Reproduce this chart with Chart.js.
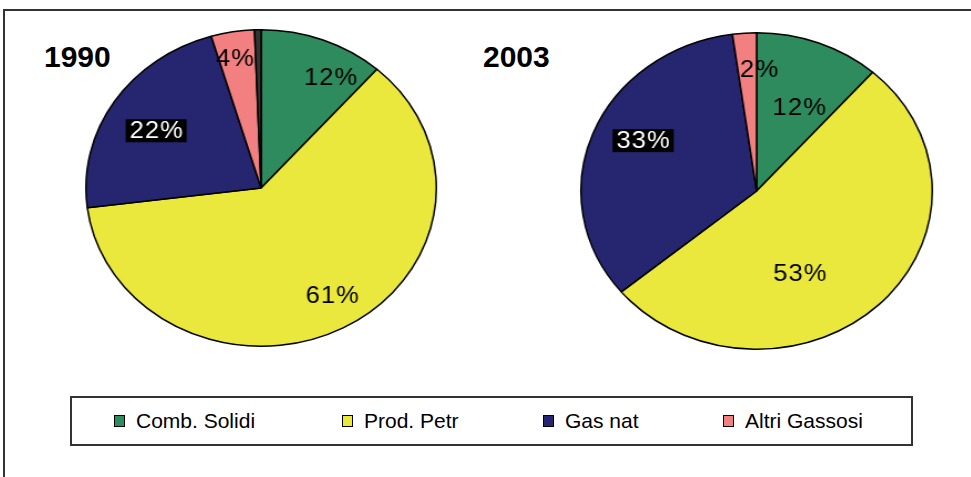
<!DOCTYPE html>
<html>
<head>
<meta charset="utf-8">
<script src="https://cdn.jsdelivr.net/npm/chart.js@4"></script>
<style>
  html, body { margin: 0; padding: 0; background: #fff; }
  body { width: 971px; height: 477px; position: relative; overflow: hidden; font-family: "Liberation Sans", Arial, sans-serif; }
  .frame { position: absolute; left: 3px; top: 9px; width: 1000px; height: 500px; border: 2px solid #333; box-sizing: border-box; }
  .title { position: absolute; font-weight: bold; font-size: 30px; line-height: 30px; color: #000; }
  .wrap { position: absolute; width: 320px; height: 320px; transform-origin: 0 0; }
  .legend { position: absolute; left: 70px; top: 396px; width: 843px; height: 50px; border: 2px solid #333; box-sizing: border-box; }
  .item { position: absolute; top: 0; height: 46px; display: flex; align-items: center; font-size: 21px; color: #000; white-space: nowrap; }
  .sw { width: 9px; height: 10px; border: 1px solid #000; margin-right: 11px; }
</style>
</head>
<body>
<div class="frame"></div>
<div class="title" style="left:44px; top:42px;">1990</div>
<div class="title" style="left:483px; top:42px;">2003</div>
<div class="wrap" id="w1" style="left:84px; top:28px; transform:scaleX(1.107);"><canvas id="c1" width="320" height="320"></canvas></div>
<div class="wrap" id="w2" style="left:579px; top:31px; transform:scaleX(1.11);"><canvas id="c2" width="320" height="320"></canvas></div>
<div class="legend" id="legend"></div>
<script>
// ---- data ----
const categories = ['Comb. Solidi', 'Prod. Petr', 'Gas nat', 'Altri Gassosi', 'Altro'];
const colors = ['#2E8B5E', '#EBE83D', '#262670', '#F28080', '#333333'];
const values1990 = [11.5, 61.5, 22.4, 4.0, 0.6];
const labels1990 = ['12%', '61%', '22%', '4%', ''];
const values2003 = [11.5, 52.5, 33.8, 2.2, 0];
const labels2003 = ['12%', '53%', '33%', '2%', ''];
const legendCount = 4;

// ---- label layout (placement only) ----
const labelLayout1990 = { frac: [0.80, 0.79, 0.70, 0.83, 0], nudge: [9, -3, -2, -1, 0] };
const labelLayout2003 = { frac: [0.58, 0.58, 0.72, 0.77, 0], nudge: [4, 19, 5, 5, 0] };
const boxedIndex = 2;
const legendX = [42, 270, 471, 651];

const sliceLabels = {
  id: 'sliceLabels',
  afterDatasetsDraw(chart, args, opts) {
    const ctx = chart.ctx;
    const meta = chart.getDatasetMeta(0);
    ctx.save();
    ctx.font = '23px "Liberation Sans", Arial, sans-serif';
    ctx.letterSpacing = '1px';
    ctx.textAlign = 'center';
    ctx.textBaseline = 'middle';
    meta.data.forEach((arc, i) => {
      const txt = opts.texts[i];
      if (!txt) return;
      const p = arc.getProps(['x', 'y', 'startAngle', 'endAngle', 'outerRadius'], true);
      const a = (p.startAngle + p.endAngle) / 2 + opts.layout.nudge[i] * Math.PI / 180;
      const r = p.outerRadius * opts.layout.frac[i];
      const x = p.x + Math.cos(a) * r;
      const y = p.y + Math.sin(a) * r;
      const w = ctx.measureText(txt).width;
      if (i === opts.boxed) {
        ctx.fillStyle = '#000';
        ctx.fillRect(x - w / 2 - 3, y - 11.5, w + 6, 23);
        ctx.fillStyle = '#fff';
      } else {
        ctx.fillStyle = '#000';
      }
      ctx.fillText(txt, x + 0.5, y + 1);
    });
    ctx.restore();
  }
};

function makePie(id, values, texts, layout) {
  return new Chart(document.getElementById(id), {
    type: 'pie',
    data: {
      labels: categories,
      datasets: [{
        data: values,
        backgroundColor: colors,
        borderColor: '#000',
        borderWidth: 1.5
      }]
    },
    options: {
      responsive: false,
      animation: false,
      devicePixelRatio: 1,
      layout: { padding: 1 },
      plugins: {
        legend: { display: false },
        tooltip: { enabled: false },
        sliceLabels: { texts: texts, layout: layout, boxed: boxedIndex }
      }
    },
    plugins: [sliceLabels]
  });
}

makePie('c1', values1990, labels1990, labelLayout1990);
makePie('c2', values2003, labels2003, labelLayout2003);

// HTML legend built from the categories / colours
const lg = document.getElementById('legend');
for (let i = 0; i < legendCount; i++) {
  const it = document.createElement('div');
  it.className = 'item';
  it.style.left = legendX[i] + 'px';
  const sw = document.createElement('div');
  sw.className = 'sw';
  sw.style.background = colors[i];
  const tx = document.createElement('span');
  tx.textContent = categories[i];
  it.appendChild(sw);
  it.appendChild(tx);
  lg.appendChild(it);
}
</script>
</body>
</html>
